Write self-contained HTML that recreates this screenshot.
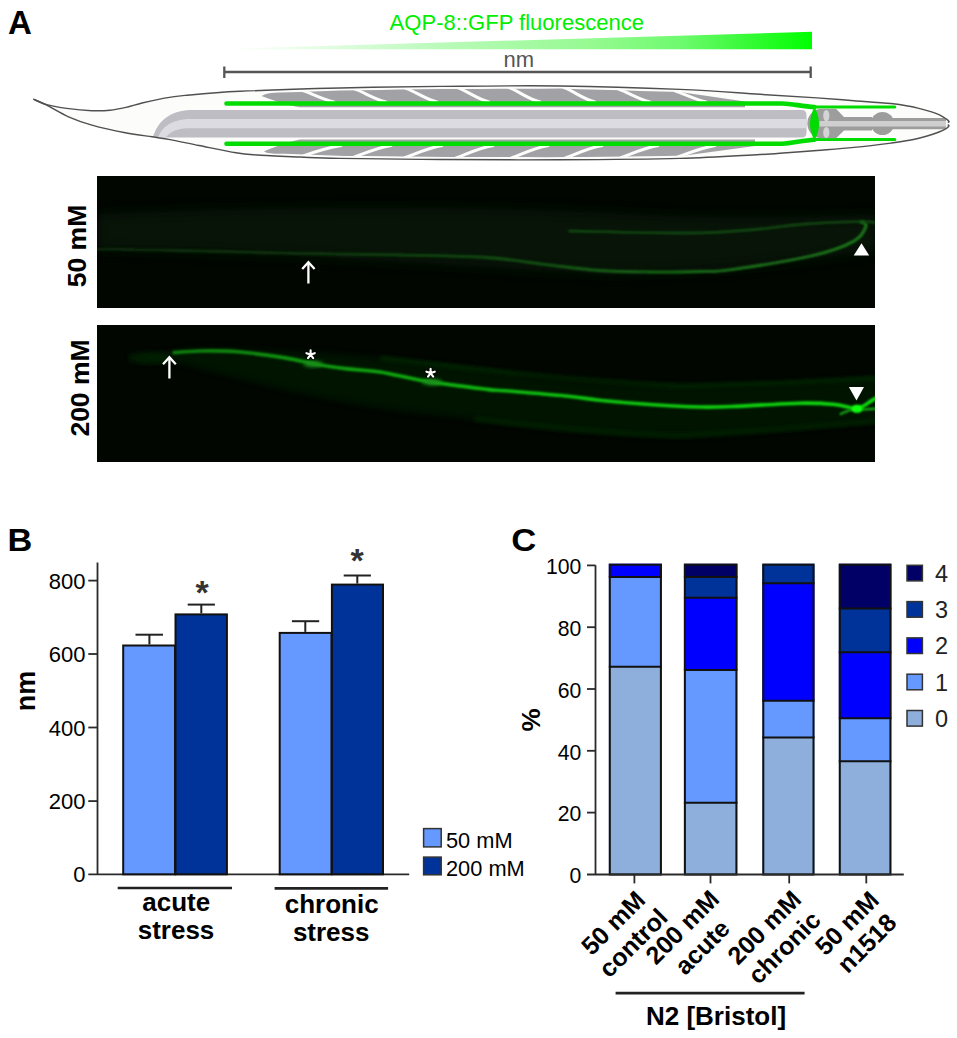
<!DOCTYPE html>
<html><head><meta charset="utf-8">
<style>
html,body{margin:0;padding:0;background:#fff;}
body{width:957px;height:1038px;overflow:hidden;position:relative;font-family:"Liberation Sans",sans-serif;}
svg{position:absolute;left:0;top:0;}
text{font-family:"Liberation Sans",sans-serif;}
</style></head>
<body>
<svg width="957" height="1038" viewBox="0 0 957 1038">
<defs>
<clipPath id="bodyclip"><path d="M 33.4,99.2 C 35.6,100.1 41.1,103.1 46.7,104.6 C 52.3,106.1 59.3,107.4 66.8,108.4 C 74.3,109.4 84.7,110.4 91.9,110.7 C 99.1,111.0 104.3,110.8 110.0,110.2 C 115.7,109.7 120.7,108.6 126.0,107.4 C 131.3,106.2 136.0,104.5 142.0,103.0 C 148.0,101.5 154.8,99.9 162.0,98.6 C 169.2,97.3 172.0,96.6 185.0,95.4 C 198.0,94.2 214.2,92.5 240.0,91.3 C 265.8,90.1 306.7,88.8 340.0,88.0 C 373.3,87.2 403.3,86.7 440.0,86.4 C 476.7,86.1 520.0,85.5 560.0,86.0 C 600.0,86.5 646.7,88.0 680.0,89.4 C 713.3,90.8 737.2,92.9 760.0,94.3 C 782.8,95.7 801.3,96.8 817.0,97.9 C 832.7,99.0 841.7,99.8 854.0,100.7 C 866.3,101.6 881.8,102.6 891.0,103.5 C 900.2,104.4 903.3,105.1 909.5,106.3 C 915.7,107.5 923.1,109.5 928.0,110.9 C 932.9,112.3 935.9,113.2 939.0,114.6 C 942.1,116.0 944.8,118.0 946.5,119.2 C 948.2,120.4 948.8,120.9 949.0,121.5 C 949.2,122.1 948.0,122.4 947.8,122.6 L 947.8,124.6 C 948.0,124.8 949.2,125.2 949.0,125.8 C 948.8,126.4 948.2,127.3 946.5,128.3 C 944.8,129.3 942.1,130.8 939.0,132.0 C 935.9,133.2 932.9,134.3 928.0,135.7 C 923.1,137.1 915.7,139.1 909.5,140.3 C 903.3,141.5 900.2,141.9 891.0,143.1 C 881.8,144.3 866.3,146.2 854.0,147.4 C 841.7,148.6 829.3,149.5 817.0,150.5 C 804.7,151.5 789.5,152.6 780.0,153.3 C 770.5,154.0 776.7,153.7 760.0,154.5 C 743.3,155.3 713.3,157.5 680.0,158.4 C 646.7,159.3 600.0,159.6 560.0,159.8 C 520.0,160.0 476.7,159.7 440.0,159.5 C 403.3,159.3 363.3,158.8 340.0,158.4 C 316.7,158.0 313.7,157.6 300.0,157.0 C 286.3,156.4 268.7,155.7 258.0,155.0 C 247.3,154.3 245.8,154.4 236.0,152.8 C 226.2,151.2 210.0,147.7 199.0,145.5 C 188.0,143.3 177.8,141.0 170.0,139.6 C 162.2,138.2 159.5,138.0 152.1,136.8 C 144.7,135.7 135.3,134.6 125.3,132.7 C 115.3,130.8 101.4,127.8 91.9,125.1 C 82.4,122.4 76.0,120.1 68.5,116.8 C 61.0,113.5 52.6,108.1 46.7,105.2 C 40.9,102.3 35.6,100.2 33.4,99.2 Z"/></clipPath>
<linearGradient id="wedge" gradientUnits="userSpaceOnUse" x1="216" y1="0" x2="812" y2="0"><stop offset="0" stop-color="#ffffff"/><stop offset="0.15" stop-color="rgb(232,253,232)"/><stop offset="0.38" stop-color="rgb(185,250,185)"/><stop offset="0.63" stop-color="rgb(150,250,145)"/><stop offset="0.78" stop-color="rgb(110,250,110)"/><stop offset="0.88" stop-color="rgb(60,250,60)"/><stop offset="1" stop-color="rgb(0,255,0)"/></linearGradient>
<clipPath id="clip1"><rect x="97" y="176" width="778" height="132"/></clipPath>
<clipPath id="clip2"><rect x="97" y="325" width="778" height="137"/></clipPath>
<filter id="blur1" x="-5%" y="-50%" width="110%" height="200%"><feGaussianBlur stdDeviation="0.9"/></filter>
<filter id="blur6" x="-10%" y="-50%" width="120%" height="200%"><feGaussianBlur stdDeviation="6"/></filter>
<filter id="blur3" x="-10%" y="-50%" width="120%" height="200%"><feGaussianBlur stdDeviation="3"/></filter>
<filter id="noise" x="0" y="0" width="100%" height="100%"><feTurbulence type="fractalNoise" baseFrequency="0.45" numOctaves="2" seed="3" result="t"/><feColorMatrix type="matrix" values="0 0 0 0 0  0 0 0 0 0.12  0 0 0 0 0  0 0 0 -4 2.0" /></filter>
<filter id="blur2" x="-50%" y="-50%" width="200%" height="200%"><feGaussianBlur stdDeviation="2"/></filter>
<linearGradient id="g1grad" gradientUnits="userSpaceOnUse" x1="97" y1="0" x2="876" y2="0"><stop offset="0" stop-color="#082808"/><stop offset="0.3" stop-color="#0c380c"/><stop offset="0.5" stop-color="#124d12"/><stop offset="0.7" stop-color="#186818"/><stop offset="1" stop-color="#1e801e"/></linearGradient>
<linearGradient id="g2grad" gradientUnits="userSpaceOnUse" x1="97" y1="0" x2="876" y2="0"><stop offset="0" stop-color="#0c700c"/><stop offset="0.15" stop-color="#0e860e"/><stop offset="0.35" stop-color="#10a810"/><stop offset="0.6" stop-color="#10c610"/><stop offset="1" stop-color="#10e010"/></linearGradient>
</defs>
<!-- ============ PANEL A ============ -->
<g id="panelA">
<text x="8" y="34" font-size="33" font-weight="bold" fill="#000">A</text>
<text x="389.6" y="29.6" font-size="22.8" fill="#00ee00" textLength="254.5" lengthAdjust="spacingAndGlyphs">AQP-8::GFP fluorescence</text>
<polygon points="216,49.2 812,31.8 812,49.2" fill="url(#wedge)"/>
<g stroke="#555" stroke-width="2.3" fill="none"><line x1="224.3" y1="72" x2="810.7" y2="72"/><line x1="224.3" y1="66.5" x2="224.3" y2="78"/><line x1="810.7" y1="66.5" x2="810.7" y2="78"/></g>
<text x="518.9" y="66.9" font-size="22" fill="#555" text-anchor="middle">nm</text>
<path d="M 33.4,99.2 C 35.6,100.1 41.1,103.1 46.7,104.6 C 52.3,106.1 59.3,107.4 66.8,108.4 C 74.3,109.4 84.7,110.4 91.9,110.7 C 99.1,111.0 104.3,110.8 110.0,110.2 C 115.7,109.7 120.7,108.6 126.0,107.4 C 131.3,106.2 136.0,104.5 142.0,103.0 C 148.0,101.5 154.8,99.9 162.0,98.6 C 169.2,97.3 172.0,96.6 185.0,95.4 C 198.0,94.2 214.2,92.5 240.0,91.3 C 265.8,90.1 306.7,88.8 340.0,88.0 C 373.3,87.2 403.3,86.7 440.0,86.4 C 476.7,86.1 520.0,85.5 560.0,86.0 C 600.0,86.5 646.7,88.0 680.0,89.4 C 713.3,90.8 737.2,92.9 760.0,94.3 C 782.8,95.7 801.3,96.8 817.0,97.9 C 832.7,99.0 841.7,99.8 854.0,100.7 C 866.3,101.6 881.8,102.6 891.0,103.5 C 900.2,104.4 903.3,105.1 909.5,106.3 C 915.7,107.5 923.1,109.5 928.0,110.9 C 932.9,112.3 935.9,113.2 939.0,114.6 C 942.1,116.0 944.8,118.0 946.5,119.2 C 948.2,120.4 948.8,120.9 949.0,121.5 C 949.2,122.1 948.0,122.4 947.8,122.6 L 947.8,124.6 C 948.0,124.8 949.2,125.2 949.0,125.8 C 948.8,126.4 948.2,127.3 946.5,128.3 C 944.8,129.3 942.1,130.8 939.0,132.0 C 935.9,133.2 932.9,134.3 928.0,135.7 C 923.1,137.1 915.7,139.1 909.5,140.3 C 903.3,141.5 900.2,141.9 891.0,143.1 C 881.8,144.3 866.3,146.2 854.0,147.4 C 841.7,148.6 829.3,149.5 817.0,150.5 C 804.7,151.5 789.5,152.6 780.0,153.3 C 770.5,154.0 776.7,153.7 760.0,154.5 C 743.3,155.3 713.3,157.5 680.0,158.4 C 646.7,159.3 600.0,159.6 560.0,159.8 C 520.0,160.0 476.7,159.7 440.0,159.5 C 403.3,159.3 363.3,158.8 340.0,158.4 C 316.7,158.0 313.7,157.6 300.0,157.0 C 286.3,156.4 268.7,155.7 258.0,155.0 C 247.3,154.3 245.8,154.4 236.0,152.8 C 226.2,151.2 210.0,147.7 199.0,145.5 C 188.0,143.3 177.8,141.0 170.0,139.6 C 162.2,138.2 159.5,138.0 152.1,136.8 C 144.7,135.7 135.3,134.6 125.3,132.7 C 115.3,130.8 101.4,127.8 91.9,125.1 C 82.4,122.4 76.0,120.1 68.5,116.8 C 61.0,113.5 52.6,108.1 46.7,105.2 C 40.9,102.3 35.6,100.2 33.4,99.2 Z" fill="#fcfcfb" stroke="none"/>
<g clip-path="url(#bodyclip)">
<path d="M 152.5,139 C 156,126 164,112 189,110 L 801.5,110 Q 806.5,110 806.5,115 L 806.5,132.5 Q 806.5,137.5 801.5,137.5 L 150,137.5 Z" fill="#bebdc4"/>
<path d="M 157.8,139 C 160,131 166,121 187,119 L 806.5,119 L 806.5,128.3 L 187,128.3 C 178,128.6 170,131 164.5,139 Z" fill="#dcdbe1"/>
<path d="M 261.5,96 C 266,93.5 272,92.6 280,92.6 L 300,91.9 L 320,91.3 L 340,90.6 L 360,90.3 L 380,90.0 L 400,89.6 L 420,89.3 L 440,89.0 L 460,88.9 L 480,88.9 L 500,88.8 L 520,88.7 L 540,88.7 L 560,88.6 L 580,89.2 L 600,89.7 L 620,90.3 L 640,90.9 L 660,91.4 L 680,92.0 L 745,101.5 L 745,107.3 L 300,107.3 C 285,105 270,99 261.5,96 Z" fill="#a2a2a6"/>
<path d="M 264,151.5 C 268,154 275,153.7 285,153.7 L 305,154.6 L 325,155.3 L 345,155.9 L 365,156.1 L 385,156.3 L 405,156.5 L 425,156.7 L 445,156.9 L 465,157.0 L 485,157.0 L 505,157.1 L 525,157.1 L 545,157.2 L 565,157.1 L 585,156.9 L 605,156.7 L 625,156.4 L 645,156.2 L 665,156.0 L 685,155.6 L 755,146 L 755,139.6 L 300,139.6 C 285,143 272,148 264,151.5 Z" fill="#a2a2a6"/>
<g stroke="#fcfcfb" stroke-width="3" fill="none" stroke-linecap="round">
<path d="M 303,90.6 C 312,93.6 322,99 334,102"/>
<path d="M 355,89.2 C 364,92.2 374,99 386,102"/>
<path d="M 406,88.4 C 415,91.4 425,99 437,102"/>
<path d="M 458,87.8 C 467,90.8 477,99 489,102"/>
<path d="M 509,87.7 C 518,90.7 528,99 540,102"/>
<path d="M 564,87.7 C 573,90.7 583,99 595,102"/>
<path d="M 619,89.3 C 628,92.3 638,99 650,102"/>
<path d="M 675,90.8 C 684,93.8 694,99 706,102"/>
<path d="M 304,155.7 C 315,151.7 327,148 341,145.5"/>
<path d="M 354,157.1 C 365,153.1 377,148 391,145.5"/>
<path d="M 405,157.6 C 416,153.6 428,148 442,145.5"/>
<path d="M 456,158.0 C 467,154.0 479,148 493,145.5"/>
<path d="M 511,158.2 C 522,154.2 534,148 548,145.5"/>
<path d="M 565,158.2 C 576,154.2 588,148 602,145.5"/>
<path d="M 621,157.6 C 632,153.6 644,148 658,145.5"/>
<path d="M 678,156.9 C 689,152.9 701,148 715,145.5"/>
</g>
<g stroke="#00dc00" fill="none" stroke-linecap="round" stroke-linejoin="round">
<path d="M 226.5,103.5 L 782,103.5 C 792,103.5 802,106.5 814.5,107" stroke-width="4.6"/>
<path d="M 226.5,143.7 L 782,143.7 C 792,143.7 802,140.3 814.5,139.7" stroke-width="4.6"/>
<path d="M 814.5,107 L 894.8,107" stroke-width="3"/>
<path d="M 814.5,139.6 L 894.8,139.6" stroke-width="3"/>
</g>
<path d="M 836,108.8 L 822,108.8 A 14.7,14.7 0 0 0 822,138.2 L 836,138.2 L 844,130.5 L 872,130.5 L 872,117 L 844,117 Z" fill="#9d9d9d"/>
<circle cx="882.5" cy="123.5" r="11.6" fill="#9d9d9d"/>
<rect x="870" y="118.1" width="76" height="11.2" rx="3" fill="#9d9d9d"/>
<rect x="819.5" y="121" width="126.5" height="5.5" fill="#cfcfcf"/>
<ellipse cx="826.3" cy="115.7" rx="3.1" ry="5.8" fill="#d4d4d4"/>
<ellipse cx="826.3" cy="132.5" rx="3.1" ry="5.5" fill="#d4d4d4"/>
<path d="M 814.5,106.5 C 818,114 819,120 819,124 C 819,128 818,134 814.5,140.5 C 811,134 810,128 810,124 C 810,120 811,114 814.5,106.5 Z" fill="#00dc00"/>
</g>
<path d="M 33.4,99.2 C 35.6,100.1 41.1,103.1 46.7,104.6 C 52.3,106.1 59.3,107.4 66.8,108.4 C 74.3,109.4 84.7,110.4 91.9,110.7 C 99.1,111.0 104.3,110.8 110.0,110.2 C 115.7,109.7 120.7,108.6 126.0,107.4 C 131.3,106.2 136.0,104.5 142.0,103.0 C 148.0,101.5 154.8,99.9 162.0,98.6 C 169.2,97.3 172.0,96.6 185.0,95.4 C 198.0,94.2 214.2,92.5 240.0,91.3 C 265.8,90.1 306.7,88.8 340.0,88.0 C 373.3,87.2 403.3,86.7 440.0,86.4 C 476.7,86.1 520.0,85.5 560.0,86.0 C 600.0,86.5 646.7,88.0 680.0,89.4 C 713.3,90.8 737.2,92.9 760.0,94.3 C 782.8,95.7 801.3,96.8 817.0,97.9 C 832.7,99.0 841.7,99.8 854.0,100.7 C 866.3,101.6 881.8,102.6 891.0,103.5 C 900.2,104.4 903.3,105.1 909.5,106.3 C 915.7,107.5 923.1,109.5 928.0,110.9 C 932.9,112.3 935.9,113.2 939.0,114.6 C 942.1,116.0 944.8,118.0 946.5,119.2 C 948.2,120.4 948.8,120.9 949.0,121.5 C 949.2,122.1 948.0,122.4 947.8,122.6" fill="none" stroke="#505050" stroke-width="1.45"/>
<path d="M 947.8,124.6 C 948.0,124.8 949.2,125.2 949.0,125.8 C 948.8,126.4 948.2,127.3 946.5,128.3 C 944.8,129.3 942.1,130.8 939.0,132.0 C 935.9,133.2 932.9,134.3 928.0,135.7 C 923.1,137.1 915.7,139.1 909.5,140.3 C 903.3,141.5 900.2,141.9 891.0,143.1 C 881.8,144.3 866.3,146.2 854.0,147.4 C 841.7,148.6 829.3,149.5 817.0,150.5 C 804.7,151.5 789.5,152.6 780.0,153.3 C 770.5,154.0 776.7,153.7 760.0,154.5 C 743.3,155.3 713.3,157.5 680.0,158.4 C 646.7,159.3 600.0,159.6 560.0,159.8 C 520.0,160.0 476.7,159.7 440.0,159.5 C 403.3,159.3 363.3,158.8 340.0,158.4 C 316.7,158.0 313.7,157.6 300.0,157.0 C 286.3,156.4 268.7,155.7 258.0,155.0 C 247.3,154.3 245.8,154.4 236.0,152.8 C 226.2,151.2 210.0,147.7 199.0,145.5 C 188.0,143.3 177.8,141.0 170.0,139.6 C 162.2,138.2 159.5,138.0 152.1,136.8 C 144.7,135.7 135.3,134.6 125.3,132.7 C 115.3,130.8 101.4,127.8 91.9,125.1 C 82.4,122.4 76.0,120.1 68.5,116.8 C 61.0,113.5 52.6,108.1 46.7,105.2 C 40.9,102.3 35.6,100.2 33.4,99.2" fill="none" stroke="#505050" stroke-width="1.45"/>
<g id="img1">
<rect x="97" y="176" width="778" height="132" fill="#010601"/>
<g clip-path="url(#clip1)">
<path d="M 97,214 C 250,206 450,205 600,212 C 700,218 800,218 876,214 L 876,250 C 800,262 700,276 600,274 C 450,266 300,254 97,250 Z" fill="#072407" opacity="0.5" filter="url(#blur6)"/>
<path d="M 97.0,249.5 C 101.0,249.5 103.8,249.1 121.0,249.3 C 138.2,249.6 170.2,250.3 200.0,251.0 C 229.8,251.7 266.7,252.7 300.0,253.4 C 333.3,254.1 368.8,254.3 400.0,255.0 C 431.2,255.7 462.3,255.9 487.0,257.5 C 511.7,259.1 529.2,262.6 548.0,264.8 C 566.8,267.0 583.0,269.3 600.0,270.5 C 617.0,271.7 633.3,271.8 650.0,272.0 C 666.7,272.2 686.4,271.9 700.0,271.5 C 713.6,271.1 712.7,272.4 731.5,269.7 C 750.3,267.0 792.6,260.2 813.0,255.5 C 833.4,250.8 844.9,246.1 853.7,241.2 C 862.5,236.3 865.0,229.3 866.0,226.0 C 867.0,222.7 861.0,222.3 860.0,221.6" fill="none" stroke="url(#g1grad)" stroke-width="2.8" filter="url(#blur1)"/>
<path d="M 568.5,231.0 C 588.9,231.3 658.8,233.3 690.7,233.0 C 722.6,232.7 741.0,230.5 760.0,229.0 C 779.0,227.5 787.8,225.2 804.8,224.0 C 821.8,222.8 850.1,221.8 862.0,221.6 C 873.9,221.4 873.7,222.8 876.0,223.0" fill="none" stroke="#124c12" stroke-width="2.4" filter="url(#blur1)"/>
<path d="M 862,236 L 876,236" fill="none" stroke="#1a6a1a" stroke-width="2" filter="url(#blur1)"/>
</g>
<g stroke="#fff" stroke-width="2.3" fill="none" stroke-linejoin="miter"><path d="M 308.4,263 L 308.4,283.5"/><path d="M 302.2,269 L 308.4,262.3 L 314.6,269"/></g>
<polygon points="853.7,255.5 869.2,255.5 861.5,243.2" fill="#fff"/>
</g>
<g id="img2">
<rect x="97" y="325" width="778" height="137" fill="#010601"/>
<g clip-path="url(#clip2)">
<path d="M 140.0,358.0 C 145.3,357.0 162.0,353.5 172.0,352.0 C 182.0,350.5 178.7,349.0 200.0,349.0 C 221.3,349.0 270.0,350.5 300.0,352.0 C 330.0,353.5 351.0,355.2 380.0,358.0 C 409.0,360.8 442.7,365.3 474.0,369.0 C 505.3,372.7 533.7,377.2 568.0,380.0 C 602.3,382.8 644.7,385.3 680.0,386.0 C 715.3,386.7 746.7,385.3 780.0,384.0 C 813.3,382.7 863.3,379.0 880.0,378.0 L 880,421 C 863.3,422.5 813.3,427.5 780.0,430.0 C 746.7,432.5 715.3,436.0 680.0,436.0 C 644.7,436.0 602.3,432.8 568.0,430.0 C 533.7,427.2 505.3,422.7 474.0,419.0 C 442.7,415.3 409.0,412.3 380.0,408.0 C 351.0,403.7 325.0,398.3 300.0,393.0 C 275.0,387.7 251.3,381.2 230.0,376.0 C 208.7,370.8 187.0,364.3 172.0,362.0 C 157.0,359.7 145.3,362.0 140.0,362.0 Z" fill="#052405" opacity="0.5" filter="url(#blur3)"/>
<path d="M 380,358 C 474,369 568,380 680,386 C 780,384 840,380 880,378" fill="none" stroke="#0a360a" stroke-width="2.5" filter="url(#blur2)"/>
<path d="M 474,419 C 568,430 620,434 680,436 C 780,430 840,424 880,421" fill="none" stroke="#093009" stroke-width="2.5" filter="url(#blur2)"/>
<ellipse cx="150" cy="358" rx="22" ry="5" fill="#062406" filter="url(#blur3)"/>
<path d="M 172.4,352.8 C 177.0,352.5 189.1,351.2 200.0,351.0 C 210.9,350.8 223.8,350.7 238.0,351.8 C 252.2,352.9 271.9,355.8 285.0,357.9 C 298.1,360.0 305.9,362.4 316.4,364.2 C 326.9,366.0 337.2,367.6 347.8,368.9 C 358.4,370.2 366.8,369.9 380.0,372.0 C 393.2,374.1 409.2,378.5 427.0,381.4 C 444.8,384.3 473.9,387.8 487.0,389.4 C 500.1,391.0 491.8,389.6 505.4,390.8 C 519.0,392.0 552.8,394.7 568.5,396.3 C 584.2,397.9 585.8,398.8 599.4,400.2 C 613.0,401.6 633.2,403.4 650.0,404.5 C 666.8,405.6 686.4,406.7 700.0,407.0 C 713.6,407.3 714.8,407.1 731.5,406.5 C 748.2,405.9 782.8,403.5 800.0,403.2 C 817.2,402.9 825.5,403.6 835.0,404.5 C 844.5,405.4 850.8,409.2 857.0,408.5 C 863.2,407.8 868.2,402.5 872.0,400.4 C 875.8,398.3 878.7,396.7 880.0,396.0" fill="none" stroke="url(#g2grad)" stroke-width="3.6" filter="url(#blur1)"/>
<path d="M 855,409 C 848,410.5 843,412.5 840,414.5 M 858,409.5 C 864,409.5 870,409 878,408.5" fill="none" stroke="#14b814" stroke-width="2.2" filter="url(#blur1)"/>
<ellipse cx="857" cy="408.8" rx="5.5" ry="4" fill="#10ff10" filter="url(#blur1)"/>
<ellipse cx="313" cy="364" rx="10" ry="3" fill="#1a901a" filter="url(#blur2)"/>
<ellipse cx="432" cy="382" rx="10" ry="3" fill="#1a901a" filter="url(#blur2)"/>
</g>
<g stroke="#fff" stroke-width="2.3" fill="none"><path d="M 169.4,358 L 169.4,378.5"/><path d="M 163,364.3 L 169.4,357.2 L 175.8,364.3"/></g>
<polygon points="848.9,387 864,387 856.5,400.4" fill="#fff"/>
<path d="M 310.6,354.6 L 310.6,350.2 M 310.6,354.6 L 314.8,353.2 M 310.6,354.6 L 313.2,358.2 M 310.6,354.6 L 308.0,358.2 M 310.6,354.6 L 306.4,353.2 M 430.6,373.1 L 430.6,368.7 M 430.6,373.1 L 434.8,371.7 M 430.6,373.1 L 433.2,376.7 M 430.6,373.1 L 428.0,376.7 M 430.6,373.1 L 426.4,371.7 " stroke="#000" stroke-width="4" stroke-linecap="round" fill="none" opacity="0.6"/>
<path d="M 310.6,354.6 L 310.6,350.2 M 310.6,354.6 L 314.8,353.2 M 310.6,354.6 L 313.2,358.2 M 310.6,354.6 L 308.0,358.2 M 310.6,354.6 L 306.4,353.2 M 430.6,373.1 L 430.6,368.7 M 430.6,373.1 L 434.8,371.7 M 430.6,373.1 L 433.2,376.7 M 430.6,373.1 L 428.0,376.7 M 430.6,373.1 L 426.4,371.7 " stroke="#fff" stroke-width="2.1" stroke-linecap="round" fill="none"/>
</g>
<g font-size="26.5" font-weight="bold" fill="#000" text-anchor="middle">
<text transform="translate(86.3,246) rotate(-90)">50 mM</text>
<text transform="translate(88.6,388) rotate(-90)">200 mM</text>
</g>
</g>
<!-- ============ PANEL B ============ -->
<g id="panelB">
<text transform="translate(7.4,551) scale(1.09,1)" font-size="31.5" font-weight="bold" fill="#000">B</text>
<g stroke="#2a2a2a" stroke-width="1.8" fill="none">
<line x1="97.5" y1="562.4" x2="97.5" y2="874.3"/>
<line x1="88.3" y1="874.3" x2="409.2" y2="874.3"/>
<line x1="88.3" y1="580.6" x2="97.5" y2="580.6"/>
<line x1="88.3" y1="654.0" x2="97.5" y2="654.0"/>
<line x1="88.3" y1="727.5" x2="97.5" y2="727.5"/>
<line x1="88.3" y1="801.1" x2="97.5" y2="801.1"/>
</g>
<g font-size="22" fill="#000" text-anchor="end">
<text x="85.5" y="588.6">800</text>
<text x="85.5" y="662.0">600</text>
<text x="85.5" y="735.5">400</text>
<text x="85.5" y="809.1">200</text>
<text x="85.5" y="882.3">0</text>
</g>
<rect x="123.2" y="645.5" width="51.8" height="228.8" fill="#6699ff" stroke="#111" stroke-width="2"/>
<rect x="175.5" y="614.4" width="51.4" height="259.9" fill="#003399" stroke="#111" stroke-width="2"/>
<rect x="279.7" y="632.9" width="51.8" height="241.4" fill="#6699ff" stroke="#111" stroke-width="2"/>
<rect x="331.9" y="584.6" width="51.1" height="289.7" fill="#003399" stroke="#111" stroke-width="2"/>
<g stroke="#222" stroke-width="2" fill="none">
<line x1="149.4" y1="644.5" x2="149.4" y2="634.7"/>
<line x1="135.5" y1="634.7" x2="163" y2="634.7"/>
<line x1="201.3" y1="613.4" x2="201.3" y2="604.6"/>
<line x1="187.7" y1="604.6" x2="214.9" y2="604.6"/>
<line x1="305.3" y1="631.9" x2="305.3" y2="621.2"/>
<line x1="291.9" y1="621.2" x2="319.2" y2="621.2"/>
<line x1="357.3" y1="583.6" x2="357.3" y2="575.5"/>
<line x1="343.7" y1="575.5" x2="370.9" y2="575.5"/>
</g>
<g font-size="34" font-weight="bold" fill="#333" text-anchor="middle">
<text x="202" y="604">*</text>
<text x="357" y="572">*</text>
</g>
<g stroke="#222" stroke-width="2.6">
<line x1="117.7" y1="888" x2="232" y2="888"/>
<line x1="274.6" y1="888.4" x2="388.1" y2="888.4"/>
</g>
<g font-size="26" font-weight="bold" fill="#000" text-anchor="middle">
<text x="176.2" y="911">acute</text>
<text x="176" y="938.6">stress</text>
<text x="331.7" y="912.7">chronic</text>
<text x="331.2" y="940.5">stress</text>
</g>
<text transform="translate(34.9,691) rotate(-90)" font-size="27" font-weight="bold" fill="#000" text-anchor="middle">nm</text>
<rect x="423.6" y="828.6" width="17.6" height="18.3" fill="#6699ff" stroke="#333" stroke-width="1.5"/>
<rect x="423.6" y="857.1" width="17.6" height="17.7" fill="#003399" stroke="#333" stroke-width="1.5"/>
<g font-size="21.8" fill="#000">
<text x="446" y="848.3">50 mM</text>
<text x="446" y="875.5">200 mM</text>
</g>
</g>
<g id="panelC">
<text transform="translate(511.3,551.2) scale(1.1,1)" font-size="31.5" font-weight="bold" fill="#000">C</text>
<rect x="608.8" y="563.7" width="53.1" height="13.3" fill="#0000ff"/>
<rect x="608.8" y="577" width="53.1" height="89.8" fill="#6699ff"/>
<rect x="608.8" y="666.8" width="53.1" height="207.7" fill="#8eaedc"/>
<line x1="608.8" y1="577" x2="661.9" y2="577" stroke="#111" stroke-width="2"/>
<line x1="608.8" y1="666.8" x2="661.9" y2="666.8" stroke="#111" stroke-width="2"/>
<rect x="609.8" y="564.7" width="51.1" height="309.8" fill="none" stroke="#111" stroke-width="2"/>
<rect x="683.9" y="563.7" width="53.5" height="13.3" fill="#000066"/>
<rect x="683.9" y="577" width="53.5" height="20.8" fill="#003399"/>
<rect x="683.9" y="597.8" width="53.5" height="72.2" fill="#0000ff"/>
<rect x="683.9" y="670" width="53.5" height="132.7" fill="#6699ff"/>
<rect x="683.9" y="802.7" width="53.5" height="71.8" fill="#8eaedc"/>
<line x1="683.9" y1="577" x2="737.4" y2="577" stroke="#111" stroke-width="2"/>
<line x1="683.9" y1="597.8" x2="737.4" y2="597.8" stroke="#111" stroke-width="2"/>
<line x1="683.9" y1="670" x2="737.4" y2="670" stroke="#111" stroke-width="2"/>
<line x1="683.9" y1="802.7" x2="737.4" y2="802.7" stroke="#111" stroke-width="2"/>
<rect x="684.9" y="564.7" width="51.5" height="309.8" fill="none" stroke="#111" stroke-width="2"/>
<rect x="762.3" y="563.7" width="52.2" height="19.5" fill="#003399"/>
<rect x="762.3" y="583.2" width="52.2" height="117.5" fill="#0000ff"/>
<rect x="762.3" y="700.7" width="52.2" height="36.9" fill="#6699ff"/>
<rect x="762.3" y="737.6" width="52.2" height="136.9" fill="#8eaedc"/>
<line x1="762.3" y1="583.2" x2="814.5" y2="583.2" stroke="#111" stroke-width="2"/>
<line x1="762.3" y1="700.7" x2="814.5" y2="700.7" stroke="#111" stroke-width="2"/>
<line x1="762.3" y1="737.6" x2="814.5" y2="737.6" stroke="#111" stroke-width="2"/>
<rect x="763.3" y="564.7" width="50.2" height="309.8" fill="none" stroke="#111" stroke-width="2"/>
<rect x="838.8" y="563.7" width="52.6" height="44.8" fill="#000066"/>
<rect x="838.8" y="608.5" width="52.6" height="43.7" fill="#003399"/>
<rect x="838.8" y="652.2" width="52.6" height="66.0" fill="#0000ff"/>
<rect x="838.8" y="718.2" width="52.6" height="43.1" fill="#6699ff"/>
<rect x="838.8" y="761.3" width="52.6" height="113.2" fill="#8eaedc"/>
<line x1="838.8" y1="608.5" x2="891.4" y2="608.5" stroke="#111" stroke-width="2"/>
<line x1="838.8" y1="652.2" x2="891.4" y2="652.2" stroke="#111" stroke-width="2"/>
<line x1="838.8" y1="718.2" x2="891.4" y2="718.2" stroke="#111" stroke-width="2"/>
<line x1="838.8" y1="761.3" x2="891.4" y2="761.3" stroke="#111" stroke-width="2"/>
<rect x="839.8" y="564.7" width="50.6" height="309.8" fill="none" stroke="#111" stroke-width="2"/>
<g stroke="#2a2a2a" stroke-width="1.8" fill="none">
<line x1="595.5" y1="565.3" x2="595.5" y2="874.5"/>
<line x1="587" y1="874.5" x2="903.8" y2="874.5"/>
<line x1="587" y1="565.4" x2="595.5" y2="565.4"/>
<line x1="587" y1="627.2" x2="595.5" y2="627.2"/>
<line x1="587" y1="689.0" x2="595.5" y2="689.0"/>
<line x1="587" y1="750.8" x2="595.5" y2="750.8"/>
<line x1="587" y1="812.6" x2="595.5" y2="812.6"/>
<line x1="634.4" y1="874.5" x2="634.4" y2="883.4"/>
<line x1="710.5" y1="874.5" x2="710.5" y2="883.4"/>
<line x1="789.2" y1="874.5" x2="789.2" y2="883.4"/>
<line x1="866.3" y1="874.5" x2="866.3" y2="883.4"/>
</g>
<g font-size="21.2" fill="#000" text-anchor="end">
<text x="581.3" y="574.1">100</text>
<text x="581.3" y="635.9">80</text>
<text x="581.3" y="697.7">60</text>
<text x="581.3" y="759.5">40</text>
<text x="581.3" y="821.3">20</text>
<text x="581.3" y="883.1">0</text>
</g>
<text transform="translate(540,720) rotate(-90)" font-size="26" font-weight="bold" fill="#000" text-anchor="middle">%</text>
<rect x="907" y="565.3" width="15.4" height="15.6" fill="#000066" stroke="#333" stroke-width="1.5"/>
<text x="935" y="581.8" font-size="23.5" fill="#222">4</text>
<rect x="907" y="601.6" width="15.4" height="15.6" fill="#003399" stroke="#333" stroke-width="1.5"/>
<text x="935" y="618.1" font-size="23.5" fill="#222">3</text>
<rect x="907" y="637.9" width="15.4" height="15.6" fill="#0000ff" stroke="#333" stroke-width="1.5"/>
<text x="935" y="654.4" font-size="23.5" fill="#222">2</text>
<rect x="907" y="674.2" width="15.4" height="15.6" fill="#6699ff" stroke="#333" stroke-width="1.5"/>
<text x="935" y="690.7" font-size="23.5" fill="#222">1</text>
<rect x="907" y="710.5" width="15.4" height="15.6" fill="#8eaedc" stroke="#333" stroke-width="1.5"/>
<text x="935" y="727.0" font-size="23.5" fill="#222">0</text>
<g transform="translate(646.8,901.5) rotate(-45)" font-size="25" font-weight="bold" fill="#000">
<text x="0" y="0" text-anchor="end">50 mM</text>
<text x="-38.9" y="28.3" text-anchor="middle">control</text>
</g>
<g transform="translate(720.8,900.8) rotate(-45)" font-size="25" font-weight="bold" fill="#000">
<text x="0" y="0" text-anchor="end">200 mM</text>
<text x="-45.9" y="28.3" text-anchor="middle">acute</text>
</g>
<g transform="translate(802.8,901.1) rotate(-45)" font-size="25" font-weight="bold" fill="#000">
<text x="0" y="0" text-anchor="end">200 mM</text>
<text x="-45.9" y="28.3" text-anchor="middle">chronic</text>
</g>
<g transform="translate(880.4,901.8) rotate(-45)" font-size="25" font-weight="bold" fill="#000">
<text x="0" y="0" text-anchor="end">50 mM</text>
<text x="-38.9" y="28.3" text-anchor="middle">n1518</text>
</g>
<line x1="615.6" y1="993.1" x2="804.6" y2="993.1" stroke="#222" stroke-width="2.8"/>
<text x="716" y="1024.8" font-size="26" font-weight="bold" fill="#000" text-anchor="middle">N2 [Bristol]</text>
</g>
</svg>
</body></html>
